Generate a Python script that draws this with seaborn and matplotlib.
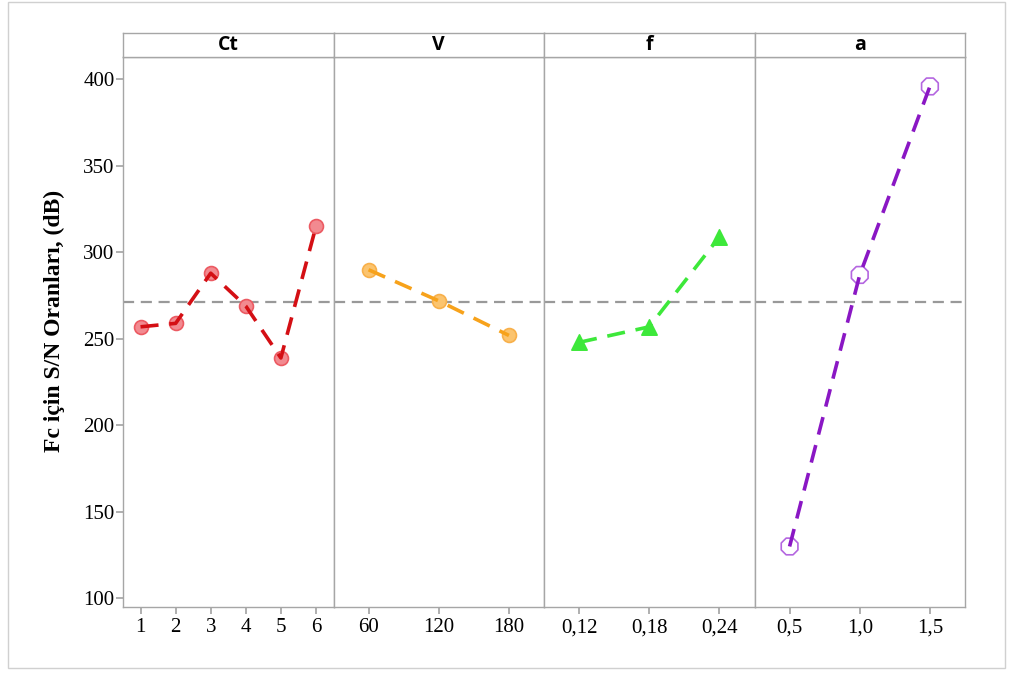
import pandas as pd
import matplotlib.pyplot as plt
import seaborn as sns
from matplotlib.patches import Rectangle

sns.set_theme(style="white")
plt.rcParams['font.family'] = ['Liberation Serif', 'DejaVu Serif']

# Faktör seviyeleri ve S/N oranları
ct_seviye = ['1', '2', '3', '4', '5', '6']
ct_sn = [257, 259, 288, 269, 239, 315]
v_seviye = ['60', '120', '180']
v_sn = [290, 272, 252]
f_seviye = ['0,12', '0,18', '0,24']
f_sn = [248, 257, 309]
a_seviye = ['0,5', '1,0', '1,5']
a_sn = [130, 287, 396]

faktorler = ['Ct', 'V', 'f', 'a']
seviyeler = [ct_seviye, v_seviye, f_seviye, a_seviye]
degerler = [ct_sn, v_sn, f_sn, a_sn]
renkler = ['#d40f14', '#f7a21b', '#3de83a', '#8a17c4']
dolgular = ['#f28a90', '#fbc46f', '#3de83a', 'none']
kenarlar = ['#ec5a62', '#f8b04a', '#3de83a', '#b466e0']
isaretler = ['o', 'o', '^', '8']
boyutlar = [10, 10, 11, 13]

genel_ort = sum(ct_sn) / len(ct_sn)

fig = plt.figure(figsize=(10.09, 6.73), dpi=100)
sol, sag = 123 / 1009, 965 / 1009
alt, ust, serit_ust = 1 - 607 / 673, 1 - 57 / 673, 1 - 33 / 673
gen = (sag - sol) / 4
gri = '#a6a6a6'

# dış çerçeve
fig.patches.append(Rectangle((8 / 1009, 5 / 673), 997 / 1009, 666 / 673,
                             transform=fig.transFigure, fill=False,
                             edgecolor='#d0d0d0', linewidth=1))

ilk_ax = None
for i, faktor in enumerate(faktorler):
    ax = fig.add_axes([sol + i * gen, alt, gen, ust - alt], sharey=ilk_ax)
    if ilk_ax is None:
        ilk_ax = ax
    df = pd.DataFrame({'seviye': seviyeler[i], 'sn': degerler[i]})
    ax.axhline(genel_ort, color='#999999', linestyle=(0, (5, 3)), linewidth=1.6, zorder=1)
    sns.scatterplot(data=df, x='seviye', y='sn', ax=ax, marker=isaretler[i],
                    s=boyutlar[i] ** 2, facecolor=dolgular[i],
                    edgecolor=kenarlar[i], linewidth=1.2, zorder=2)
    sns.lineplot(data=df, x='seviye', y='sn', ax=ax, color=renkler[i],
                 linestyle=(0, (5, 3)), linewidth=2.6, sort=False, zorder=3)
    ax.set_xlim(-0.5, len(seviyeler[i]) - 0.5)
    ax.set_ylim(95, 413)
    ax.set_xlabel('')
    ax.set_ylabel('')
    for s in ax.spines.values():
        s.set_color(gri)
        s.set_linewidth(1)
    ax.tick_params(axis='x', bottom=True, length=5, color=gri, labelsize=15,
                   labelcolor='black', pad=3)
    if i == 0:
        ax.set_yticks([100, 150, 200, 250, 300, 350, 400])
        ax.tick_params(axis='y', left=True, length=5, color=gri, labelsize=15,
                       labelcolor='black', pad=1)
        ax.set_ylabel('Fc için S/N Oranları, (dB)', fontsize=17, fontweight='bold',
                      color='black')
        ax.yaxis.set_label_coords(-0.275, 0.52)
    else:
        ax.tick_params(axis='y', left=False, labelleft=False)

    # şerit başlığı
    sax = fig.add_axes([sol + i * gen, ust, gen, serit_ust - ust])
    sax.set_xticks([])
    sax.set_yticks([])
    for s in sax.spines.values():
        s.set_color(gri)
        s.set_linewidth(1)
    sax.text(0.5, 0.5, faktor, ha='center', va='center', fontsize=14,
             fontweight='bold', family=['Open Sans', 'DejaVu Sans'],
             color='black', transform=sax.transAxes)

fig.savefig('out.png', dpi=100)
